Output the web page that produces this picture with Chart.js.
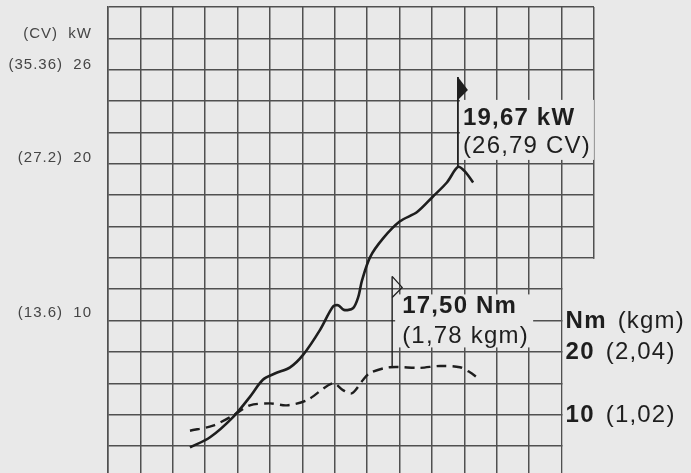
<!DOCTYPE html>
<html>
<head>
<meta charset="utf-8">
<script src="https://cdn.jsdelivr.net/npm/chart.js@4.4.1/dist/chart.umd.min.js"></script>
<style>
  html, body { margin: 0; padding: 0; overflow: hidden; background: #e9e9e9; }
  #wrap { width: 691px; height: 490px; }
</style>
</head>
<body>
<div id="wrap"><canvas id="dyno" width="691" height="490"></canvas></div>
<script>
// power curve (solid line), x in grid columns, y in kW
const powerX  = [2.53, 3.15, 3.86, 4.38, 4.78, 5.15, 5.62, 6.02, 6.54, 6.94, 7.10, 7.28, 7.56, 7.72, 7.84, 8.09, 8.49, 9.01, 9.54, 10.03, 10.46, 10.80, 11.02, 11.27];
const powerKW = [1.35, 2.0, 3.3, 4.6, 5.7, 6.1, 6.5, 7.3, 8.9, 10.4, 10.5, 10.2, 10.3, 11.0, 12.1, 13.6, 14.8, 15.9, 16.5, 17.5, 18.4, 19.4, 19.1, 18.4];

// torque curve (dashed line), y in Nm
const torqueX  = [2.53, 3.24, 3.86, 4.38, 5.00, 5.52, 6.14, 6.94, 7.25, 7.53, 7.87, 8.09, 8.70, 9.63, 10.25, 10.86, 11.17, 11.39];
const torqueNm = [7.6, 8.4, 10.0, 11.6, 11.9, 11.6, 12.4, 15.1, 14.0, 13.5, 15.6, 16.7, 17.6, 17.5, 17.8, 17.6, 16.8, 16.0];

// left scale (kW with CV in brackets)
const kwTicks = [10, 20, 26, 27.94];
const kwTickLabels = ['(13.6)  10', '(27.2)  20', '(35.36)  26', '(CV)  kW'];

// right scale (Nm with kgm in brackets)
const nmTicks = [10, 20, 24.9];
const nmTickBold = ['10', '20', 'Nm'];
const nmTickRest = ['(1,02)', '(2,04)', '(kgm)'];

// peak call-outs
const powerPeakX = 10.8, powerPeakKW = 19.4, powerFlagKW = 25.2;
const torquePeakX = 8.77, torquePeakNm = 17.5, torqueFlagNm = 31.9;
const powerPeakText = ['19,67 kW', '(26,79 CV)'];
const torquePeakText = ['17,50 Nm', '(1,78 kgm)'];

const paperColor = '#e9e9e9';
const gridColor = '#505050';
const inkColor = '#1e1e1e';
const bigFont = '"Liberation Sans", Arial, sans-serif';

const paperPlugin = {
  id: 'paper',
  beforeDraw(chart) {
    const c = chart.ctx;
    c.save();
    c.fillStyle = paperColor;
    c.fillRect(0, 0, chart.width, chart.height);
    c.restore();
    c.letterSpacing = '1px';
  },
  beforeDatasetsDraw(chart) {
    const {ctx, chartArea} = chart;
    const {x, grid, kw, nm} = chart.scales;
    ctx.save();
    ctx.fillStyle = paperColor;
    // the sheet has no last column below the middle line
    const cx = x.getPixelForValue(14) + 1;
    const cy = grid.getPixelForValue(7) + 1;
    ctx.fillRect(cx, cy, chartArea.right - cx + 4, chartArea.bottom - cy + 4);
    // white-out behind the call-out texts
    const px = x.getPixelForValue(powerPeakX), pTop = kw.getPixelForValue(powerFlagKW);
    ctx.fillRect(px + 2, pTop + 23, 134, 60);
    const tx = x.getPixelForValue(torquePeakX), tTop = nm.getPixelForValue(torqueFlagNm);
    ctx.fillRect(tx + 3, tTop + 18, 138, 53);
    ctx.restore();
  },
  afterDatasetsDraw(chart) {
    const {ctx} = chart;
    const {x, kw, nm} = chart.scales;
    ctx.save();
    ctx.letterSpacing = '1.2px';
    ctx.fillStyle = inkColor;
    ctx.strokeStyle = inkColor;
    ctx.textBaseline = 'middle';
    ctx.textAlign = 'left';

    // power flag (filled)
    const px = x.getPixelForValue(powerPeakX), pTop = kw.getPixelForValue(powerFlagKW);
    ctx.beginPath();
    ctx.moveTo(px, pTop);
    ctx.lineTo(px + 10, pTop + 13);
    ctx.lineTo(px, pTop + 23);
    ctx.closePath();
    ctx.fill();
    ctx.font = 'bold 24px ' + bigFont;
    ctx.fillText(powerPeakText[0], px + 5, pTop + 41);
    ctx.font = '24px ' + bigFont;
    ctx.fillText(powerPeakText[1], px + 5, pTop + 69);

    // torque flag (outline)
    const tx = x.getPixelForValue(torquePeakX), tTop = nm.getPixelForValue(torqueFlagNm);
    ctx.lineWidth = 1.3;
    ctx.beginPath();
    ctx.moveTo(tx, tTop);
    ctx.lineTo(tx + 10, tTop + 11);
    ctx.lineTo(tx, tTop + 21);
    ctx.stroke();
    ctx.font = 'bold 24px ' + bigFont;
    ctx.fillText(torquePeakText[0], tx + 10, tTop + 30);
    ctx.font = '24px ' + bigFont;
    ctx.fillText(torquePeakText[1], tx + 10, tTop + 60);

    // right hand scale
    const rx = x.getPixelForValue(14) + 4;
    nmTicks.forEach((v, i) => {
      const y = nm.getPixelForValue(v);
      ctx.font = 'bold 24px ' + bigFont;
      ctx.fillText(nmTickBold[i], rx, y);
      const w = ctx.measureText(nmTickBold[i]).width;
      ctx.font = '24px ' + bigFont;
      ctx.fillText(nmTickRest[i], rx + w + 11, y);
    });
    ctx.restore();
  }
};

const xy = (xs, ys) => xs.map((v, i) => ({x: v, y: ys[i]}));

const gridAxis = {
  grid: {color: gridColor, lineWidth: 1.5, drawTicks: false},
  border: {color: gridColor, width: 1.5},
  ticks: {display: false, stepSize: 1}
};

new Chart(document.getElementById('dyno'), {
  type: 'line',
  data: {
    datasets: [
      {
        data: xy(powerX, powerKW), yAxisID: 'kw',
        borderColor: inkColor, borderWidth: 2.6, pointRadius: 0, tension: 0.3
      },
      {
        data: xy(torqueX, torqueNm), yAxisID: 'nm',
        borderColor: inkColor, borderWidth: 2.4, borderDash: [10, 6], pointRadius: 0, tension: 0.3
      },
      {
        data: xy([powerPeakX, powerPeakX], [powerPeakKW, powerFlagKW]), yAxisID: 'kw',
        borderColor: inkColor, borderWidth: 1.8, pointRadius: 0
      },
      {
        data: xy([torquePeakX, torquePeakX], [torquePeakNm, torqueFlagNm]), yAxisID: 'nm',
        borderColor: inkColor, borderWidth: 1.4, pointRadius: 0
      }
    ]
  },
  options: {
    responsive: false,
    animation: false,
    events: [],
    devicePixelRatio: 1,
    layout: {padding: {top: 7, left: 0, right: 97, bottom: 12.6}},
    plugins: {legend: {display: false}, tooltip: {enabled: false}},
    scales: {
      x: Object.assign({type: 'linear', min: 0, max: 15, position: 'bottom',
        afterFit: s => { s.height = 0; }}, gridAxis),
      grid: Object.assign({type: 'linear', min: 0, max: 15, position: 'left',
        afterFit: s => { s.width = 0; }}, gridAxis),
      kw: {
        type: 'linear', min: -0.586, max: 29.70, position: 'left', weight: 1,
        grid: {display: false, drawTicks: false},
        border: {display: false},
        ticks: {
          padding: 16, color: '#454545',
          font: {family: bigFont, size: 15},
          callback: (v, i) => kwTickLabels[i]
        },
        afterBuildTicks: s => { s.ticks = kwTicks.map(v => ({value: v})); },
        afterFit: s => { s.width = 108; s.paddingTop = 0; s.paddingBottom = 0; }
      },
      nm: {type: 'linear', min: 0.25, max: 74.33, position: 'right', display: false}
    }
  },
  plugins: [paperPlugin]
});
</script>
</body>
</html>
